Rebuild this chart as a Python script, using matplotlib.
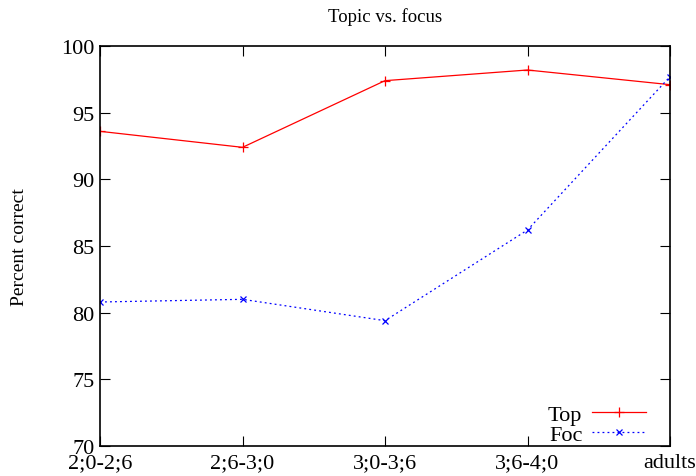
import matplotlib
matplotlib.use('Agg')
import matplotlib.pyplot as plt

plt.rcParams['font.family'] = ['Liberation Serif', 'DejaVu Serif']

ages = ['2;0-2;6', '2;6-3;0', '3;0-3;6', '3;6-4;0', 'adults']
top = [93.6, 92.4, 97.4, 98.2, 97.1]
foc = [80.8, 81.0, 79.4, 86.2, 97.7]

fig = plt.figure(figsize=(6.96, 4.77), dpi=100)
ax = fig.add_axes([100/696, 30/477, 570/696, 400/477])

xs = range(len(ages))
ax.plot(xs, top, color='red', lw=0.9, marker='+', ms=7, mew=0.9, label='Top')
ax.plot(xs, foc, color='blue', lw=0.9, ls=(0, (1.5, 2.5)), marker='x', ms=5, mew=0.9, label='Foc')

ax.set_xlim(0, len(ages) - 1)
ax.set_ylim(70, 100)
ax.set_xticks(list(xs))
ax.set_xticklabels(ages)
ax.set_yticks(range(70, 101, 5))
ax.tick_params(direction='in', top=True, right=True, length=7, labelsize=16, pad=4)
ax.tick_params(axis='x', pad=5)
for s in ax.spines.values():
    s.set_linewidth(1.2)

ax.set_ylabel('Percent correct', fontsize=14, labelpad=24)
ax.set_title('Topic vs. focus', fontsize=13.5, pad=18)

ax.legend(loc='lower right', frameon=False, markerfirst=False, fontsize=16,
          handlelength=2.4, handletextpad=0.45, labelspacing=0.0,
          borderaxespad=0.0, bbox_to_anchor=(0.973, -0.02))

fig.savefig('out.png', dpi=100)
